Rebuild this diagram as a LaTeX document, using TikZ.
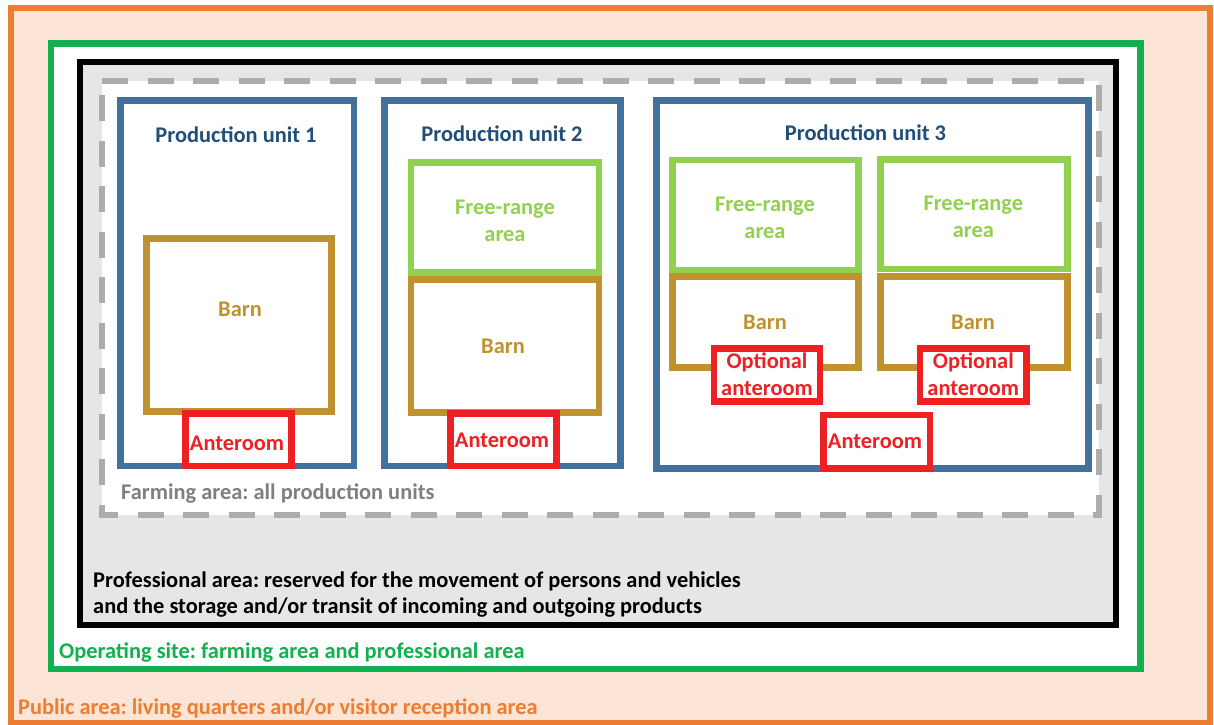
\documentclass[tikz,border=0pt]{standalone}
\usepackage{fontspec}
\setmainfont{Carlito}
\frenchspacing
\definecolor{orangeC}{HTML}{ED7D31}
\definecolor{orangeF}{HTML}{FCE4D6}
\definecolor{greenC}{HTML}{12B04F}
\definecolor{grayF}{HTML}{E7E6E6}
\definecolor{dashC}{HTML}{AEABAB}
\definecolor{farmT}{HTML}{7F7F7F}
\definecolor{puBlue}{HTML}{41719C}
\definecolor{puText}{HTML}{1F4E79}
\definecolor{frGreen}{HTML}{92D050}
\definecolor{barnC}{HTML}{C0922F}
\definecolor{redC}{HTML}{EE2024}
\begin{document}
\begin{tikzpicture}[x=1pt,y=-1pt,
  lw/.style={line width=6.5pt},
  txt/.style={font=\fontsize{22.4}{26.7}\selectfont\bfseries, inner sep=0pt, align=center},
  ltxt/.style={font=\fontsize{22.4}{26}\selectfont\bfseries, inner sep=0pt, anchor=west, align=left},
  pubox/.style={lw, draw=puBlue, fill=white},
  frbox/.style={lw, draw=frGreen, fill=white},
  barnbox/.style={lw, draw=barnC, fill=white},
  antebox/.style={lw, draw=redC, fill=white}]
\useasboundingbox (0,0) rectangle (1214,724);
\fill[white] (0,0) rectangle (1214,724);
% public area
\draw[line width=6pt, draw=orangeC, fill=orangeF] (11,8) rectangle (1209.5,722.5);
% operating site
\draw[lw, draw=greenC, fill=white] (51,43.5) rectangle (1140.7,669);
% professional area
\draw[lw, draw=black, fill=grayF] (80,62) rectangle (1116,625);
% farming area
\fill[white] (102,81) rectangle (1099,514.7);
\draw[line width=6pt, draw=dashC, dash pattern=on 26pt off 19.5pt]
  (102,81) -- (1099,81) -- (1099,514.7) -- (102,514.7) -- cycle;
% production units
\draw[pubox] (120.7,100.7) rectangle (354,466);
\draw[pubox] (384.3,100.7) rectangle (620.7,466);
\draw[pubox] (656.7,100.7) rectangle (1088.3,468.3);
% free-range areas
\draw[frbox] (411,162.7) rectangle (599,272.3);
\draw[frbox] (672.7,160) rectangle (858.3,270);
\draw[frbox] (880.7,159.3) rectangle (1067.3,269);
% barns
\draw[barnbox] (146.7,238.7) rectangle (331.7,411.7);
\draw[barnbox] (411,279.3) rectangle (599,412.3);
\draw[barnbox] (672.7,276.7) rectangle (858.3,367.7);
\draw[barnbox] (880.7,276.7) rectangle (1067.3,367.7);
% anterooms
\draw[antebox] (185.7,413.3) rectangle (291.7,466);
\draw[antebox] (450.7,413.3) rectangle (556.7,466);
\draw[antebox] (714,348.7) rectangle (820,401.7);
\draw[antebox] (920,348.7) rectangle (1026.7,401.7);
\draw[antebox] (823.3,415) rectangle (930,468.3);
% texts
\node[txt, text=puText] (pu1) at (236,135) {Production unit 1};
\node[txt, text=puText] (pu2) at (502,133.3) {Production unit 2};
\node[txt, text=puText] (pu3) at (865.5,132.3) {Production unit 3};
\node[txt, text=frGreen] (fr2) at (505,220.7) {Free-range\\area};
\node[txt, text=frGreen] (fr3a) at (765,217.5) {Free-range\\area};
\node[txt, text=frGreen] (fr3b) at (973.3,217) {Free-range\\area};
\node[txt, text=barnC] (barn1) at (240,309.3) {Barn};
\node[txt, text=barnC] (barn2) at (503,346.7) {Barn};
\node[txt, text=barnC] (barn3a) at (765,322) {Barn};
\node[txt, text=barnC] (barn3b) at (973,322) {Barn};
\node[txt, text=redC] (ante1) at (237,443) {Anteroom};
\node[txt, text=redC] (ante2) at (502,440) {Anteroom};
\node[txt, text=redC] (ante3) at (875,441.7) {Anteroom};
\node[txt, text=redC] (opt3a) at (767,374.3) {Optional\\anteroom};
\node[txt, text=redC] (opt3b) at (973.3,374.3) {Optional\\anteroom};
\node[ltxt, text=farmT] (farm) at (121,494) {Farming area: all production units};
\node[ltxt, text=black] (prof) at (93,595) {Professional area: reserved for the movement of persons and vehicles\\and the storage and/or transit of incoming and outgoing products};
\node[ltxt, text=greenC] (oper) at (59,652.5) {Operating site: farming area and professional area};
\node[ltxt, text=orangeC] (pub) at (18,709) {Public area: living quarters and/or visitor reception area};
\end{tikzpicture}
\end{document}
